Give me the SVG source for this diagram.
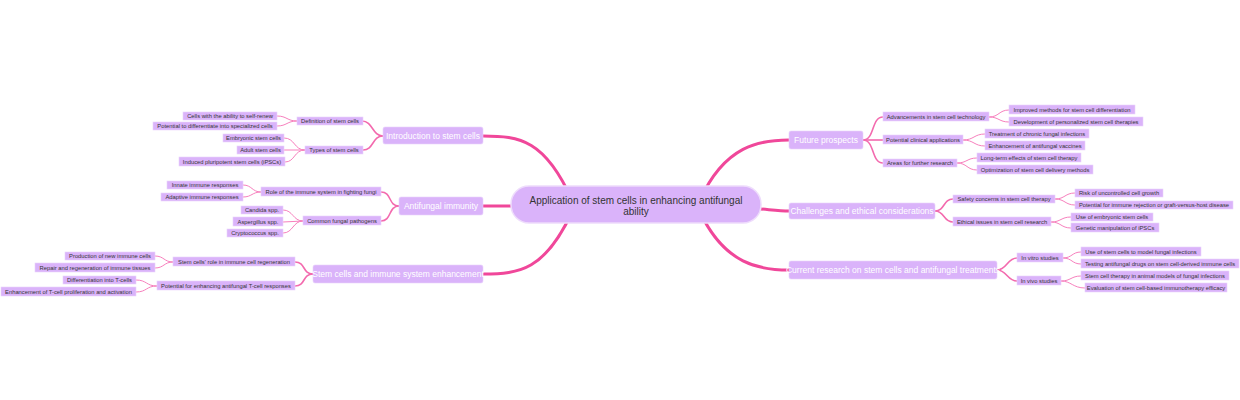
<svg xmlns="http://www.w3.org/2000/svg" width="1240" height="400" viewBox="0 0 1240 400">
<style>
.n rect{fill:#dab3fa;stroke:#e9d4fb;stroke-width:0.6}
.m text{font:8.5px "Liberation Sans",Arial,sans-serif;fill:#fff;text-anchor:middle;dominant-baseline:central}
.s text{font:5.8px "Liberation Sans",Arial,sans-serif;fill:#333;text-anchor:middle;dominant-baseline:central}
.c0{fill:none;stroke:#f0479a;stroke-width:3}
.c1{fill:none;stroke:#f36aae;stroke-width:1.6}
.c2{fill:none;stroke:#f77fbd;stroke-width:1}
</style>
<rect width="1240" height="400" fill="#fff"/>
<g id="connectors">
<path class="c0" d="M572 200 C545 140 520 136 483 136"/>
<path class="c0" d="M540 206 C520 206 500 206 483 206"/>
<path class="c0" d="M572 212 C545 270 520 274 483 274"/>
<path class="c0" d="M700 200 C725 145 760 140 789 140"/>
<path class="c0" d="M740 208 C760 208 775 211 789 211"/>
<path class="c0" d="M700 212 C725 265 760 270 789 270"/>
<path class="c1" d="M383 136 C372 136 373 121 362 121"/>
<path class="c1" d="M383 136 C372 136 374 150 363 150"/>
<path class="c1" d="M399 206 C388 206 392 192 381 192"/>
<path class="c1" d="M399 206 C388 206 392 221 381 221"/>
<path class="c1" d="M313 274 C302 274 306 262 295 262"/>
<path class="c1" d="M313 274 C302 274 306 286 295 286"/>
<path class="c1" d="M863 140 C875 140 871 117 883 117"/>
<path class="c1" d="M863 140 L883 140"/>
<path class="c1" d="M863 140 C875 140 871 163 883 163"/>
<path class="c1" d="M935 211 C945 211 943 199 953 199"/>
<path class="c1" d="M935 211 C945 211 943 222 953 222"/>
<path class="c1" d="M997 270 C1007 270 1007 258 1017 258"/>
<path class="c1" d="M997 270 C1007 270 1007 281 1017 281"/>
<path class="c2" d="M297 121 C287 121 287 116 277 116"/>
<path class="c2" d="M297 121 C287 121 287 126 277 126"/>
<path class="c2" d="M305 150 C294 150 295 138 284 138"/>
<path class="c2" d="M305 150 L284 150"/>
<path class="c2" d="M305 150 C294 150 295 162 285 162"/>
<path class="c2" d="M261 192 C252 192 252 185 243 185"/>
<path class="c2" d="M261 192 C252 192 252 197 243 197"/>
<path class="c2" d="M303 221 C293 221 293 210 283 210"/>
<path class="c2" d="M303 221 L283 222"/>
<path class="c2" d="M303 221 C293 221 293 233 283 233"/>
<path class="c2" d="M173 262 C164 262 164 256 155 256"/>
<path class="c2" d="M173 262 C164 262 164 268 155 268"/>
<path class="c2" d="M157 286 C146 286 147 280 136 280"/>
<path class="c2" d="M157 286 C146 286 147 292 136 292"/>
<path class="c2" d="M989 117 C999 117 999 110 1009 110"/>
<path class="c2" d="M989 117 C999 117 999 122 1009 122"/>
<path class="c2" d="M963 140 C974 140 974 134 985 134"/>
<path class="c2" d="M963 140 C974 140 974 146 985 146"/>
<path class="c2" d="M957 163 C967 163 967 158 977 158"/>
<path class="c2" d="M957 163 C967 163 967 170 977 170"/>
<path class="c2" d="M1055 199 C1065 199 1065 193 1075 193"/>
<path class="c2" d="M1055 199 C1065 199 1065 205 1075 205"/>
<path class="c2" d="M1051 222 C1061 222 1061 217 1071 217"/>
<path class="c2" d="M1051 222 C1061 222 1061 228 1071 228"/>
<path class="c2" d="M1063 258 C1072 258 1072 252 1081 252"/>
<path class="c2" d="M1063 258 C1072 258 1072 264 1081 264"/>
<path class="c2" d="M1061 281 C1071 281 1071 276 1081 276"/>
<path class="c2" d="M1061 281 C1071 281 1073 288 1085 288"/>
</g>
<g id="center"><rect x="511" y="186" width="250" height="37" rx="18" fill="#dab3fa" stroke="#eedcfc" stroke-width="1.5"/>
<text x="636" y="200" font-family="Liberation Sans,Arial,sans-serif" font-size="10" fill="#333" text-anchor="middle" dominant-baseline="central">Application of stem cells in enhancing antifungal</text>
<text x="636" y="211" font-family="Liberation Sans,Arial,sans-serif" font-size="10" fill="#333" text-anchor="middle" dominant-baseline="central">ability</text></g>
<g id="intro" class="n m"><rect x="383" y="127" width="100" height="17" rx="2"/><text x="433" y="135.5">Introduction to stem cells</text></g>
<g id="antifungal" class="n m"><rect x="399" y="197" width="84" height="18" rx="2"/><text x="441" y="206">Antifungal immunity</text></g>
<g id="enhance" class="n m"><rect x="313" y="265" width="170" height="18" rx="2"/><text x="398" y="274">Stem cells and immune system enhancement</text></g>
<g id="future" class="n m"><rect x="789" y="131" width="74" height="18" rx="2"/><text x="826" y="140">Future prospects</text></g>
<g id="challenges" class="n m"><rect x="789" y="203" width="146" height="16" rx="2"/><text x="862" y="211">Challenges and ethical considerations</text></g>
<g id="current" class="n m"><rect x="789" y="261" width="208" height="18" rx="2"/><text x="893" y="270">Current research on stem cells and antifungal treatments</text></g>
<g id="def" class="n s"><rect x="297" y="117" width="66" height="8"/><text x="330" y="121">Definition of stem cells</text></g>
<g id="types" class="n s"><rect x="305" y="146" width="58" height="8"/><text x="334" y="150">Types of stem cells</text></g>
<g id="role" class="n s"><rect x="261" y="187" width="120" height="9"/><text x="321" y="191.5">Role of the immune system in fighting fungi</text></g>
<g id="common" class="n s"><rect x="303" y="216" width="78" height="9"/><text x="342" y="220.5">Common fungal pathogens</text></g>
<g id="regen" class="n s"><rect x="173" y="257" width="122" height="9"/><text x="234" y="261.5">Stem cells' role in immune cell regeneration</text></g>
<g id="tcell" class="n s"><rect x="157" y="281" width="138" height="9"/><text x="226" y="285.5">Potential for enhancing antifungal T-cell responses</text></g>
<g id="l1" class="n s"><rect x="183" y="112" width="94" height="8"/><text x="230" y="116">Cells with the ability to self-renew</text></g>
<g id="l2" class="n s"><rect x="153" y="122" width="124" height="8"/><text x="215" y="126">Potential to differentiate into specialized cells</text></g>
<g id="l3" class="n s"><rect x="223" y="134" width="61" height="8"/><text x="253.5" y="138">Embryonic stem cells</text></g>
<g id="l4" class="n s"><rect x="237" y="146" width="47" height="8"/><text x="260.5" y="150">Adult stem cells</text></g>
<g id="l5" class="n s"><rect x="179" y="157" width="106" height="9"/><text x="232" y="161.5">Induced pluripotent stem cells (iPSCs)</text></g>
<g id="l6" class="n s"><rect x="167" y="181" width="76" height="8"/><text x="205" y="185">Innate immune responses</text></g>
<g id="l7" class="n s"><rect x="161" y="193" width="82" height="8"/><text x="202" y="197">Adaptive immune responses</text></g>
<g id="l8" class="n s"><rect x="241" y="206" width="42" height="8"/><text x="262" y="210">Candida spp.</text></g>
<g id="l9" class="n s"><rect x="233" y="217" width="50" height="9"/><text x="258" y="221.5">Aspergillus spp.</text></g>
<g id="l10" class="n s"><rect x="227" y="229" width="56" height="8"/><text x="255" y="233">Cryptococcus spp.</text></g>
<g id="l11" class="n s"><rect x="65" y="252" width="90" height="8"/><text x="110" y="256">Production of new immune cells</text></g>
<g id="l12" class="n s"><rect x="35" y="263" width="120" height="9"/><text x="95" y="267.5">Repair and regeneration of immune tissues</text></g>
<g id="l13" class="n s"><rect x="63" y="276" width="73" height="8"/><text x="99.5" y="280">Differentiation into T-cells</text></g>
<g id="l14" class="n s"><rect x="1" y="287" width="135" height="9"/><text x="68.5" y="291.5">Enhancement of T-cell proliferation and activation</text></g>
<g id="adv" class="n s"><rect x="883" y="112" width="106" height="9"/><text x="936" y="116.5">Advancements in stem cell technology</text></g>
<g id="clin" class="n s"><rect x="883" y="135" width="80" height="9"/><text x="923" y="139.5">Potential clinical applications</text></g>
<g id="areas" class="n s"><rect x="883" y="159" width="74" height="8"/><text x="920" y="163">Areas for further research</text></g>
<g id="safety" class="n s"><rect x="953" y="195" width="102" height="8"/><text x="1004" y="199">Safety concerns in stem cell therapy</text></g>
<g id="ethical" class="n s"><rect x="953" y="217" width="98" height="9"/><text x="1002" y="221.5">Ethical issues in stem cell research</text></g>
<g id="vitro" class="n s"><rect x="1017" y="253" width="46" height="9"/><text x="1040" y="257.5">In vitro studies</text></g>
<g id="vivo" class="n s"><rect x="1017" y="276" width="44" height="9"/><text x="1039" y="280.5">In vivo studies</text></g>
<g id="r1" class="n s"><rect x="1009" y="105" width="126" height="9"/><text x="1072" y="109.5">Improved methods for stem cell differentiation</text></g>
<g id="r2" class="n s"><rect x="1009" y="117" width="134" height="9"/><text x="1076" y="121.5">Development of personalized stem cell therapies</text></g>
<g id="r3" class="n s"><rect x="985" y="129" width="104" height="9"/><text x="1037" y="133.5">Treatment of chronic fungal infections</text></g>
<g id="r4" class="n s"><rect x="985" y="141" width="100" height="9"/><text x="1035" y="145.5">Enhancement of antifungal vaccines</text></g>
<g id="r5" class="n s"><rect x="977" y="153" width="104" height="9"/><text x="1029" y="157.5">Long-term effects of stem cell therapy</text></g>
<g id="r6" class="n s"><rect x="977" y="165" width="116" height="9"/><text x="1035" y="169.5">Optimization of stem cell delivery methods</text></g>
<g id="r7" class="n s"><rect x="1075" y="189" width="88" height="8"/><text x="1119" y="193">Risk of uncontrolled cell growth</text></g>
<g id="r8" class="n s"><rect x="1075" y="201" width="158" height="8"/><text x="1154" y="205">Potential for immune rejection or graft-versus-host disease</text></g>
<g id="r9" class="n s"><rect x="1071" y="213" width="82" height="8"/><text x="1112" y="217">Use of embryonic stem cells</text></g>
<g id="r10" class="n s"><rect x="1071" y="223" width="88" height="9"/><text x="1115" y="227.5">Genetic manipulation of iPSCs</text></g>
<g id="r11" class="n s"><rect x="1081" y="247" width="120" height="9"/><text x="1141" y="251.5">Use of stem cells to model fungal infections</text></g>
<g id="r12" class="n s"><rect x="1081" y="259" width="158" height="9"/><text x="1160" y="263.5">Testing antifungal drugs on stem cell-derived immune cells</text></g>
<g id="r13" class="n s"><rect x="1081" y="271" width="148" height="9"/><text x="1155" y="275.5">Stem cell therapy in animal models of fungal infections</text></g>
<g id="r14" class="n s"><rect x="1085" y="283" width="142" height="9"/><text x="1156" y="287.5">Evaluation of stem cell-based immunotherapy efficacy</text></g>
</svg>
